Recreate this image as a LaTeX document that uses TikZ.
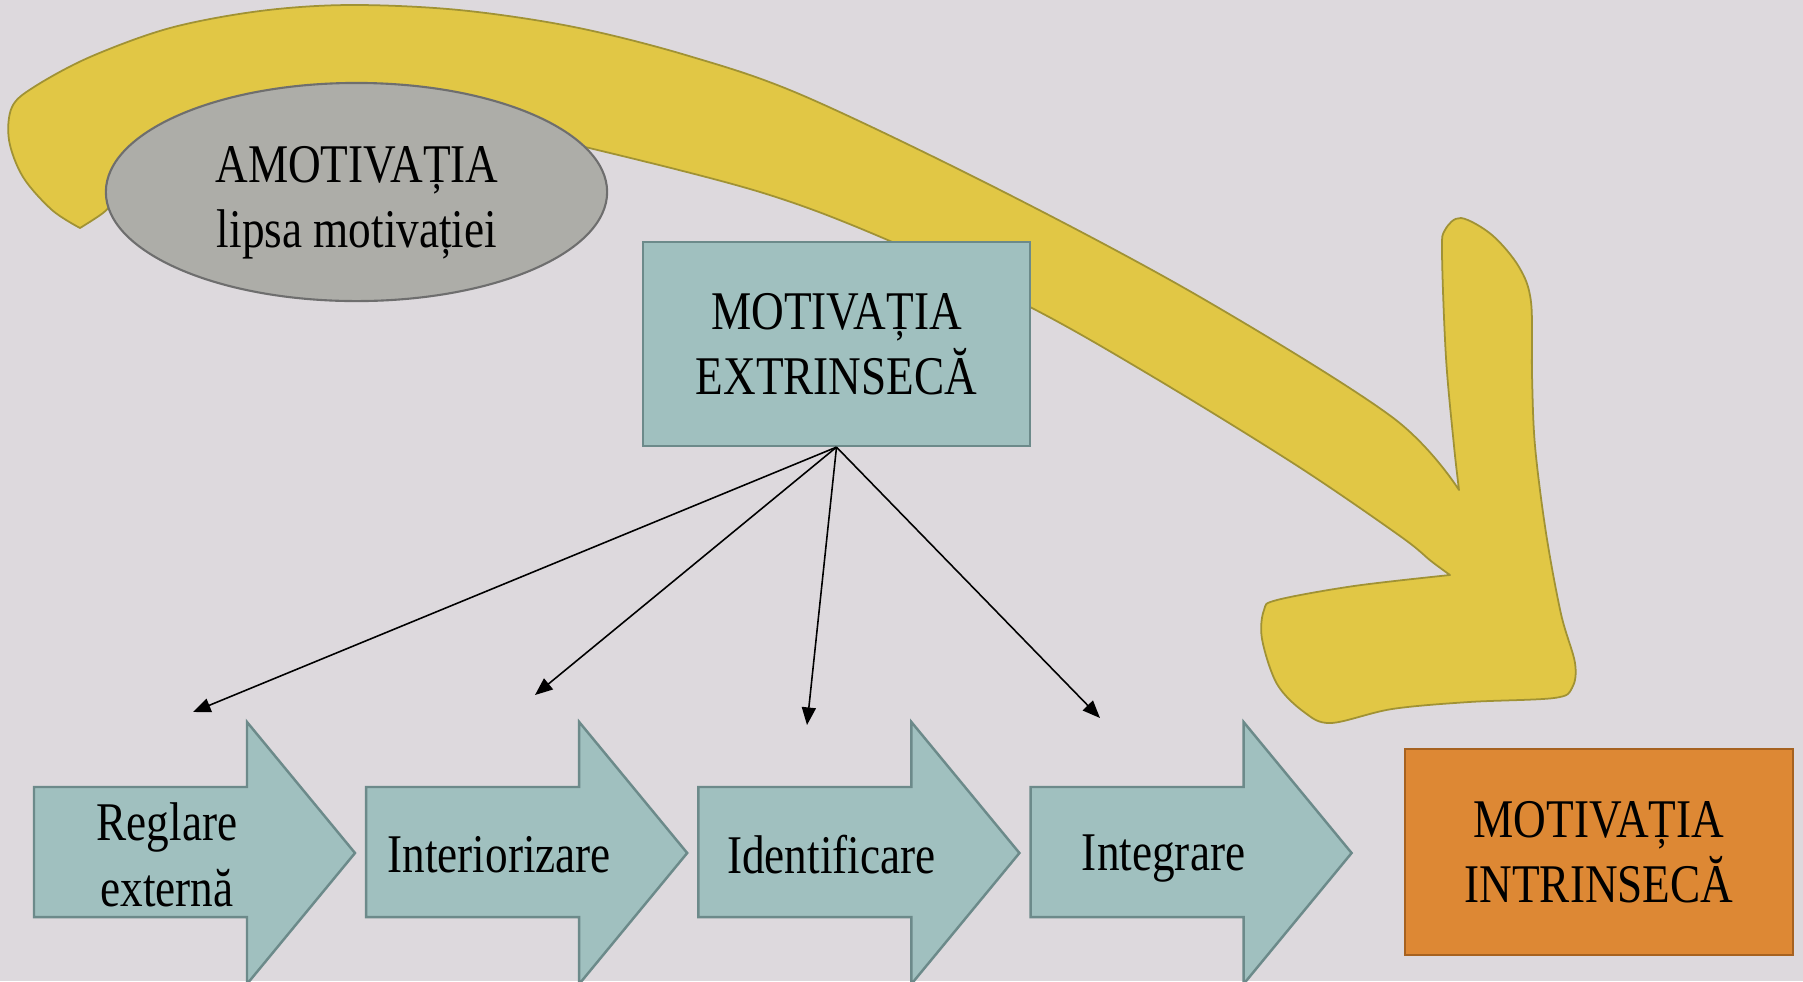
\documentclass[tikz,border=0pt]{standalone}
\usepackage{fontspec}
\setmainfont{Liberation Serif}[FakeStretch=0.83]
\usetikzlibrary{arrows.meta, shapes.geometric}
\definecolor{bgcol}{RGB}{221,217,221}
\definecolor{tealfill}{RGB}{160,192,191}
\definecolor{tealline}{RGB}{108,138,138}
\definecolor{grayfill}{RGB}{173,173,168}
\definecolor{grayline}{RGB}{110,110,110}
\definecolor{orangefill}{RGB}{221,136,52}
\definecolor{orangeline}{RGB}{166,98,32}
\definecolor{yellowfill}{RGB}{225,199,69}
\definecolor{yellowline}{RGB}{160,146,52}

\begin{document}
\begin{tikzpicture}[
    x=0.01cm, y=-0.01cm,
    txt/.style={font=\fontsize{15.5}{18.6}\selectfont, align=center},
    box/.style={txt, draw=tealline, fill=tealfill, line width=0.6pt, inner sep=0pt, minimum width=3.87cm, minimum height=2.04cm},
    goal/.style={box, draw=orangeline, fill=orangefill, minimum width=3.88cm, minimum height=2.06cm},
    cloud/.style={ellipse, draw=grayline, fill=grayfill, line width=0.6pt, inner sep=0pt, minimum width=5.01cm, minimum height=2.18cm},
    stage/.style={draw=tealline, fill=tealfill, line width=0.7pt},
    bigarrow/.style={draw=yellowline, fill=yellowfill, line width=0.5pt, line join=round},
    link/.style={-{Triangle[length=5pt, width=4pt]}, line width=0.45pt}
  ]
  \fill[bgcol] (0,0) rectangle (1803,981);
  \useasboundingbox (0,0) rectangle (1803,981);

  \draw[bigarrow] plot[smooth, tension=0.55] coordinates {(80,228) (52,210) (23,177) (9,140) (12,107) (34,87) (90,57) (170,28) (260,11) (350,5) (459,10) (574,27) (689,56) (804,96) (1000,190) (1200,297) (1392,417) (1459,490)}
    -- plot[smooth, tension=0.55] coordinates {(1459,490) (1454,446) (1446,358) (1442,253) (1445,230) (1461,218) (1492,235) (1519,267) (1531,302) (1532,375) (1535,446) (1546,533) (1561,614) (1575,663) (1572,688) (1554,698) (1469,702) (1392,709) (1331,723) (1304,712) (1277,684) (1262,639) (1264,610) (1277,600) (1354,586) (1450,575)}
    -- plot[smooth, tension=0.55] coordinates {(1450,575) (1431,561) (1400,536) (1296,465) (1150,375) (1030,307) (883,238) (760,192) (585,147) (480,125) (360,105) (250,125) (170,160) (120,197) (103,213) (80,228)}
    -- cycle;

  \node[cloud] (amot) at (356.5,192) {};
  \node[txt] (amottext) at (357,203) {AMOTIVAȚIA\\lipsa motivației};
  \node[box] (ext) at (836.5,344) {MOTIVAȚIA\\EXTRINSECĂ};
  \node[goal] (intr) at (1599,852) {MOTIVAȚIA\\INTRINSECĂ};

  \foreach \i/\stagename/\ty in {0/{Reglare\\externă}/855, 1/Interiorizare/855, 2/Identificare/855, 3/Integrare/859} {
    \draw[stage, shift={({\i*332.2},0)}] (34,787) -- (247,787) -- (247,722) -- (355,853) -- (247,984) -- (247,917) -- (34,917) -- cycle;
    \node[txt] (s\i) at ({167+\i*332.2},\ty) {\stagename};
  }

  \coordinate (e0) at (193,712);
  \coordinate (e1) at (535,695);
  \coordinate (e2) at (807,725);
  \coordinate (e3) at (1100,718);
  \foreach \i in {0,...,3}
    \draw[link] (ext.south) -- (e\i);
\end{tikzpicture}
\end{document}
